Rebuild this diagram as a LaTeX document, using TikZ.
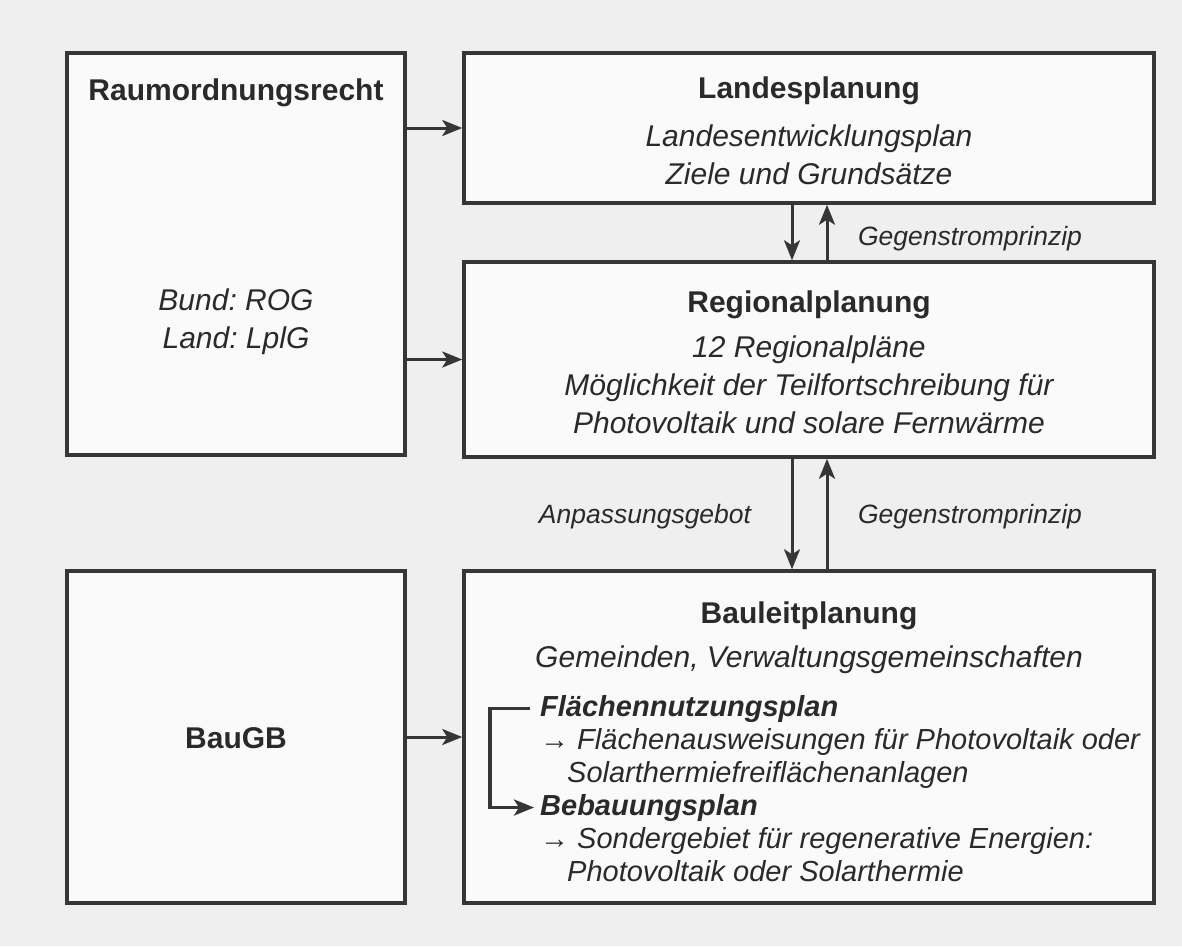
\documentclass[tikz,border=0pt]{standalone}
\usepackage{fontspec}
\setmainfont{Liberation Sans}
\usetikzlibrary{arrows.meta,positioning}

\definecolor{bggray}{HTML}{EFEFEF}
\definecolor{boxfill}{HTML}{FAFAFA}
\definecolor{boxline}{HTML}{363636}
\definecolor{ink}{HTML}{2A2A2A}

\begin{document}
\frenchspacing
\begin{tikzpicture}[x=1pt,y=-1pt,
  box/.style={rectangle,draw=boxline,fill=boxfill,line width=3.5pt,inner sep=0pt},
  head/.style={font=\fontsize{30}{38}\selectfont\bfseries,text=ink,inner sep=0pt,anchor=base},
  line/.style={font=\fontsize{30}{38}\selectfont\itshape,text=ink,inner sep=0pt,anchor=base},
  item/.style={font=\fontsize{29}{33}\selectfont\itshape,text=ink,inner sep=0pt,anchor=base west},
  tag/.style={font=\fontsize{26.5}{30}\selectfont\itshape,text=ink,inner sep=0pt,anchor=base},
  arrow/.style={-{Stealth[length=20pt,width=16pt,inset=5pt]},line width=3pt,draw=boxline}]

\fill[bggray] (0,0) rectangle (1182,946);
\useasboundingbox (0,0) rectangle (1182,946);

% boxes
\node[box,minimum width=338pt,minimum height=402pt] (raum) at (236,254) {};
\node[box,minimum width=690pt,minimum height=150pt] (landes) at (809,128) {};
\node[box,minimum width=690pt,minimum height=195pt] (regio) at (809,359.5) {};
\node[box,minimum width=690pt,minimum height=332pt] (bau) at (809,737) {};
\node[box,minimum width=338pt,minimum height=332pt] (baugb) at (236,737) {};

% Raumordnungsrecht
\node[head] (raumtitle) at (236,100) {Raumordnungsrecht};
\node[line] (bund) at (236,310) {Bund: ROG};
\node[line] (land) at (236,348) {Land: LplG};

% Landesplanung
\node[head] (landestitle) at (809,98) {Landesplanung};
\node[line] (lep) at (809,146) {Landesentwicklungsplan};
\node[line] (ziele) at (809,184) {Ziele und Grundsätze};

% Regionalplanung
\node[head] (regiotitle) at (809,312) {Regionalplanung};
\node[line] (regio1) at (809,357) {12 Regionalpläne};
\node[line] (regio2) at (809,395) {Möglichkeit der Teilfortschreibung für};
\node[line] (regio3) at (809,433) {Photovoltaik und solare Fernwärme};

% Bauleitplanung
\node[head] (bautitle) at (809,623) {Bauleitplanung};
\node[line] (gemeinden) at (809,667) {Gemeinden, Verwaltungsgemeinschaften};
\node[item,font=\fontsize{29}{33}\selectfont\bfseries\itshape] (fnp) at (540,716) {Flächennutzungsplan};
\node[item] (fnp1) at (540,749) {→ Flächenausweisungen für Photovoltaik oder};
\node[item] (fnp2) at (567,782) {Solarthermiefreiflächenanlagen};
\node[item,font=\fontsize{29}{33}\selectfont\bfseries\itshape] (bplan) at (540,815) {Bebauungsplan};
\node[item] (bplan1) at (540,848) {→ Sondergebiet für regenerative Energien:};
\node[item] (bplan2) at (567,881) {Photovoltaik oder Solarthermie};

% BauGB
\node[head] (baugbtitle) at (236,748) {BauGB};

% labels
\node[tag] (gegen1) at (970,245) {Gegenstromprinzip};
\node[tag] (gegen2) at (970,523) {Gegenstromprinzip};
\node[tag] (anpass) at (645,523) {Anpassungsgebot};

% connectors
\draw[arrow] (raum.east |- landes.west) -- (landes.west);
\draw[arrow] (raum.east |- regio.west) -- (regio.west);
\draw[arrow] (baugb.east) -- (bau.west);
\draw[arrow] ([xshift=-17pt]landes.south) -- ([xshift=-17pt]regio.north);
\draw[arrow] ([xshift=18pt]regio.north) -- ([xshift=18pt]landes.south);
\draw[arrow] ([xshift=-17pt]regio.south) -- ([xshift=-17pt]bau.north);
\draw[arrow] ([xshift=18pt]bau.north) -- ([xshift=18pt]regio.south);
\draw[arrow,line width=3.5pt,shorten <=10pt,shorten >=6pt] (fnp.west) -- ++(-50,0) |- (bplan.west);
\end{tikzpicture}
\end{document}
